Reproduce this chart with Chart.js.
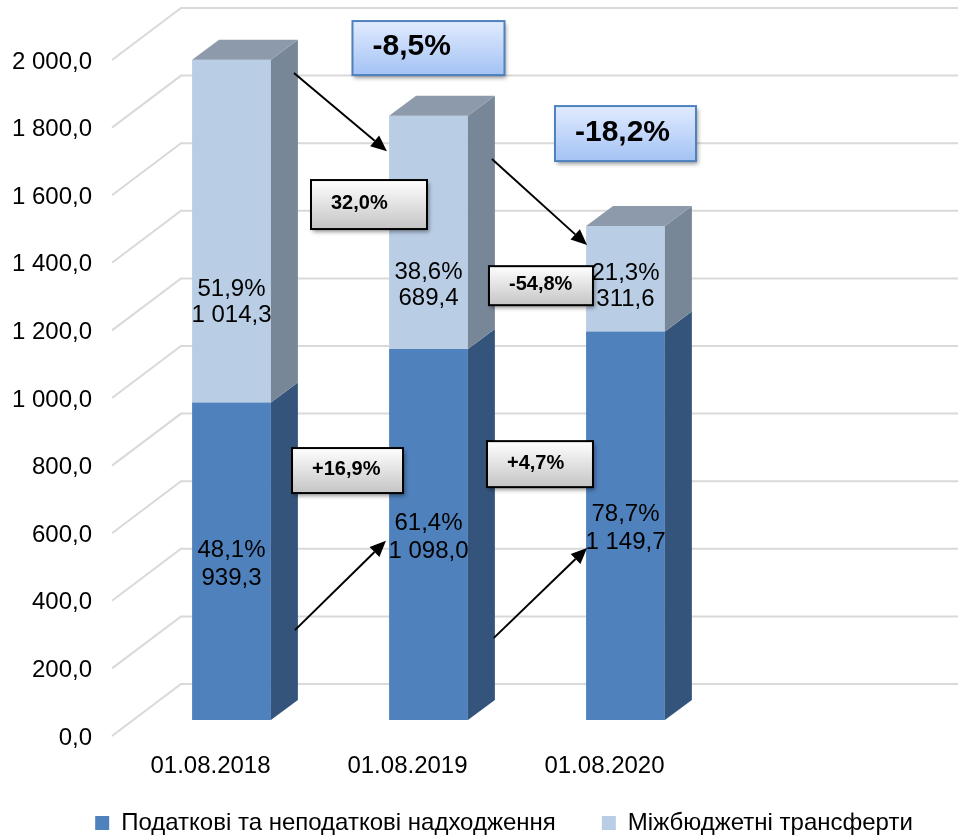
<!DOCTYPE html>
<html>
<head>
<meta charset="utf-8">
<script src="https://cdn.jsdelivr.net/npm/chart.js@4.4.1/dist/chart.umd.min.js"></script>
<style>
  html, body { margin:0; padding:0; background:#fff; }
  #c { display:block; }
</style>
</head>
<body>
<canvas id="c" width="958" height="836"></canvas>
<script>
const categories    = ['01.08.2018', '01.08.2019', '01.08.2020'];
const ownRevenue    = [939.3, 1098.0, 1149.7];
const transfers     = [1014.3, 689.4, 311.6];
const ownShare      = ['48,1%', '61,4%', '78,7%'];
const transferShare = ['51,9%', '38,6%', '21,3%'];
const yTicks        = [0, 200, 400, 600, 800, 1000, 1200, 1400, 1600, 1800, 2000];

const totalChange    = ['-8,5%', '-18,2%'];
const ownChange      = ['+16,9%', '+4,7%'];
const transferChange = ['32,0%', '-54,8%'];

const FONT = '"Liberation Sans", Arial, sans-serif';
Chart.defaults.font.family = FONT;
Chart.defaults.color = '#000';

// 3d look: bar depth and the gap in front / behind the bars
const DX = 27, DY = 20, GX = 21, GY = 16;
const sideColor = ['#34547B', '#778797'];
const topColor  = '#8D9AAB';

// where the (hand-placed) labels of the upper segment sit, in axis units
const transferLabelAt = [1243, 1296, 1293];

// callouts, placed in axis units (category index, value)
const callouts = [
  { text: totalChange[0],    kind: 'blue', at: [1.0,   1988], w: 152, h: 54 },
  { text: totalChange[1],    kind: 'blue', at: [2.0,   1735], w: 141, h: 55 },
  { text: transferChange[0], kind: 'grey', at: [0.698, 1525], w: 116, h: 49 },
  { text: transferChange[1], kind: 'grey', at: [1.571, 1285], w: 104, h: 39 },
  { text: ownChange[0],      kind: 'grey', at: [0.589,  738], w: 111, h: 45 },
  { text: ownChange[1],      kind: 'grey', at: [1.566,  757], w: 106, h: 46 },
];
const arrows = [
  { from: [0.317, 1914], to: [0.789, 1683] },
  { from: [1.322, 1660], to: [1.805, 1405] },
  { from: [0.322,  266], to: [0.784,  530] },
  { from: [1.332,  243], to: [1.805,  509] },
];

function fmt(v) {
  const [i, d] = v.toFixed(1).split('.');
  return i.replace(/\B(?=(\d{3})+(?!\d))/g, ' ') + ',' + d;
}

const wallPlugin = {
  id: 'wall',
  afterLayout(chart) {
    // Excel puts the legend a bit right of centre and closer to the axis
    const lg = chart.legend;
    lg.left += 25; lg.right += 25;
    lg.top -= 15; lg.bottom -= 15;
  },
  beforeDatasetsDraw(chart) {
    const {ctx, chartArea: a, scales: {y}} = chart;
    ctx.save();
    ctx.strokeStyle = '#D9D9D9';
    ctx.lineWidth = 2;
    yTicks.forEach(v => {
      const py = y.getPixelForValue(v);
      ctx.beginPath();
      ctx.moveTo(a.left - GX, py + GY);
      ctx.lineTo(a.left + DX + GX, py - DY - GY);
      ctx.lineTo(chart.width, py - DY - GY);
      ctx.stroke();
    });
    ctx.restore();
  },
  afterDatasetsDraw(chart) {
    const {ctx, scales: {y}} = chart;
    const last = chart.data.datasets.length - 1;
    const poly = pts => {
      ctx.beginPath();
      pts.forEach((p, k) => k ? ctx.lineTo(p[0], p[1]) : ctx.moveTo(p[0], p[1]));
      ctx.closePath();
      ctx.fill();
    };
    ctx.save();
    chart.data.datasets.forEach((ds, di) => {
      chart.getDatasetMeta(di).data.forEach(bar => {
        const {x, y: top, base, width} = bar.getProps(['x', 'y', 'base', 'width'], true);
        const l = x - width / 2, r = x + width / 2;
        ctx.fillStyle = sideColor[di];
        poly([[r, base], [r + DX, base - DY], [r + DX, top - DY], [r, top]]);
        if (di === last) {
          ctx.fillStyle = topColor;
          poly([[l, top], [l + DX, top - DY], [r + DX, top - DY], [r, top]]);
        }
      });
    });

    // value labels
    ctx.font = '24px ' + FONT;
    ctx.fillStyle = '#000';
    ctx.textAlign = 'center';
    ctx.textBaseline = 'middle';
    chart.getDatasetMeta(0).data.forEach((bar, i) => {
      const c = (bar.y + bar.base) / 2 + 3;
      ctx.fillText(ownShare[i], bar.x, c - 14);
      ctx.fillText(fmt(ownRevenue[i]), bar.x, c + 14);
    });
    chart.getDatasetMeta(1).data.forEach((bar, i) => {
      const c = y.getPixelForValue(transferLabelAt[i]) + 3;
      ctx.fillText(transferShare[i], bar.x, c - 13);
      ctx.fillText(fmt(transfers[i]), bar.x, c + 13);
    });
    ctx.restore();
  },
  afterDraw(chart) {
    const {ctx, scales: {x, y}} = chart;
    const pt = p => [x.getPixelForValue(p[0]), y.getPixelForValue(p[1])];

    ctx.save();
    ctx.strokeStyle = '#000';
    ctx.fillStyle = '#000';
    ctx.lineWidth = 2;
    arrows.forEach(a => {
      const [x1, y1] = pt(a.from), [x2, y2] = pt(a.to);
      const ang = Math.atan2(y2 - y1, x2 - x1), L = 16, W = 7;
      const bx = x2 - L * Math.cos(ang), by = y2 - L * Math.sin(ang);
      ctx.beginPath();
      ctx.moveTo(x1, y1);
      ctx.lineTo(bx, by);
      ctx.stroke();
      ctx.beginPath();
      ctx.moveTo(x2, y2);
      ctx.lineTo(bx + W * Math.sin(ang), by - W * Math.cos(ang));
      ctx.lineTo(bx - W * Math.sin(ang), by + W * Math.cos(ang));
      ctx.closePath();
      ctx.fill();
    });
    ctx.restore();

    callouts.forEach(c => {
      const [cx, cy] = pt(c.at);
      const left = cx - c.w / 2, top = cy - c.h / 2;
      const blue = c.kind === 'blue';
      const g = ctx.createLinearGradient(0, top, 0, top + c.h);
      if (blue) { g.addColorStop(0, '#E1EBFF'); g.addColorStop(1, '#A3C2F4'); }
      else      { g.addColorStop(0, '#FFFFFF'); g.addColorStop(1, '#C4C4C4'); }
      ctx.save();
      ctx.shadowColor = 'rgba(0,0,0,0.4)';
      ctx.shadowBlur = 4;
      ctx.shadowOffsetX = 2;
      ctx.shadowOffsetY = 3;
      ctx.fillStyle = g;
      ctx.fillRect(left, top, c.w, c.h);
      ctx.restore();
      ctx.save();
      ctx.strokeStyle = blue ? '#4F81BD' : '#000';
      ctx.lineWidth = 2;
      ctx.strokeRect(left, top, c.w, c.h);
      ctx.fillStyle = '#000';
      ctx.font = 'bold ' + (blue ? 30 : 20) + 'px ' + FONT;
      ctx.textAlign = 'left';
      ctx.textBaseline = 'middle';
      ctx.fillText(c.text, left + 20, cy - 1);
      ctx.restore();
    });
  }
};

new Chart(document.getElementById('c'), {
  type: 'bar',
  data: {
    datasets: [
      { label: 'Податкові та неподаткові надходження',
        data: categories.map((c, i) => ({ x: i, y: ownRevenue[i] })),
        backgroundColor: '#4F81BD' },
      { label: 'Міжбюджетні трансферти',
        data: categories.map((c, i) => ({ x: i, y: transfers[i] })),
        backgroundColor: '#B9CDE5' }
    ]
  },
  options: {
    responsive: false,
    animation: false,
    devicePixelRatio: 1,
    events: [],
    categoryPercentage: 1,
    barPercentage: 0.4,
    layout: { padding: { top: 44, left: 0, right: 0, bottom: -24 } },
    plugins: {
      tooltip: { enabled: false },
      legend: {
        position: 'bottom',
        labels: { boxWidth: 14, boxHeight: 14, padding: 46, font: { size: 24 }, color: '#000' }
      }
    },
    scales: {
      x: {
        type: 'linear', stacked: true, offset: false,
        min: -0.5, max: 3.688,   // Excel leaves an empty slot on the right
        grid: { display: false, drawTicks: false }, border: { display: false },
        afterBuildTicks: s => { s.ticks = categories.map((c, i) => ({ value: i })); },
        afterFit: s => { s.height = 60; },
        ticks: {
          callback: v => categories[v] ?? '',
          autoSkip: false, maxRotation: 0, padding: 32, labelOffset: -GX,
          font: { size: 24 }, color: '#000'
        }
      },
      y: {
        stacked: true, min: 0, max: 2000,
        grid: { display: false, drawTicks: false }, border: { display: false },
        afterBuildTicks: s => { s.ticks = yTicks.map(v => ({ value: v })); },
        afterFit: s => { s.width = 133; s.paddingTop = 0; s.paddingBottom = 0; },
        ticks: {
          callback: v => fmt(v),
          padding: 41, labelOffset: GY + 2,
          font: { size: 24 }, color: '#000'
        }
      }
    }
  },
  plugins: [wallPlugin]
});
</script>
</body>
</html>
